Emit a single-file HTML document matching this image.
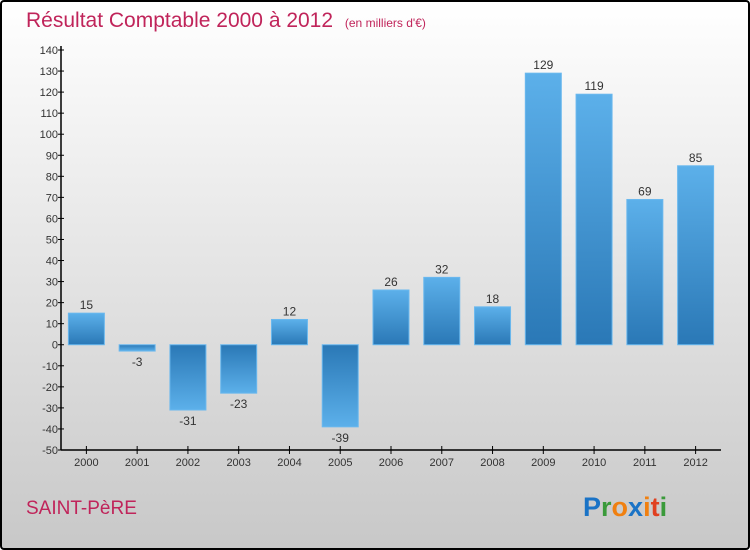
<!DOCTYPE html>
<html><head><meta charset="utf-8"><style>
html,body{margin:0;padding:0}
body{width:750px;height:550px;overflow:hidden;font-family:"Liberation Sans",sans-serif}
#wrap{position:absolute;left:0;top:0;width:746px;height:546px;border:2px solid #000;border-radius:4px;background:linear-gradient(#fff,#c8c8c8)}
</style></head><body>
<div id="wrap">
<svg id="chart" width="750" height="550" style="position:absolute;left:-2px;top:-2px">
<defs>
<linearGradient id="gp" x1="0" y1="0" x2="0" y2="1"><stop offset="0" stop-color="#5cb0ea"/><stop offset="1" stop-color="#2a78b6"/></linearGradient>
<linearGradient id="gn" x1="0" y1="0" x2="0" y2="1"><stop offset="0" stop-color="#2a78b6"/><stop offset="1" stop-color="#5cb0ea"/></linearGradient>
</defs>
<text x="26" y="27" font-size="21" fill="#c0245a">Résultat Comptable 2000 à 2012 <tspan font-size="12" dx="6">(en milliers d'€)</tspan></text>
<text x="26" y="514" font-size="19" fill="#c0245a">SAINT-PèRE</text>
<text x="583" y="516" font-size="27" font-weight="bold"><tspan fill="#1a73c6">P</tspan><tspan fill="#3a9a3a">r</tspan><tspan fill="#f08010">o</tspan><tspan fill="#1a73c6">x</tspan><tspan fill="#f08010">i</tspan><tspan fill="#e04020">t</tspan><tspan fill="#3a9a3a">i</tspan></text>
<g id="g"></g>
</svg>
</div>
<script>
const categories=["2000","2001","2002","2003","2004","2005","2006","2007","2008","2009","2010","2011","2012"];
const values=[15,-3,-31,-23,12,-39,26,32,18,129,119,69,85];
const yTicks=[140,130,120,110,100,90,80,70,60,50,40,30,20,10,0,-10,-20,-30,-40,-50];
const NS="http://www.w3.org/2000/svg";
const g=document.getElementById('g');
const X0=61,X1=721,Y0=50,Y1=450,VMAX=140,VMIN=-50;
const bw=(X1-X0)/categories.length;
function y(v){return Y0+(VMAX-v)*(Y1-Y0)/(VMAX-VMIN);}
function xc(i){return X0+(i+0.5)*bw;}
function mk(t,a){const e=document.createElementNS(NS,t);for(const k in a)e.setAttribute(k,a[k]);g.appendChild(e);return e;}
values.forEach((v,i)=>{
  const top=Math.min(y(v),y(0)),h=Math.abs(y(v)-y(0));
  const r=mk('rect',{x:xc(i)-18,y:top,width:36,height:h,fill:v>=0?'url(#gp)':'url(#gn)',stroke:'#6ab8ee','stroke-width':1});
  
  
  const t=mk('text',{x:xc(i),y:v>=0?y(v)-4:y(v)+15,'font-size':12,'text-anchor':'middle',fill:'#333'});
  t.textContent=v;
  
  
  const tk=mk('line',{x1:xc(i),x2:xc(i),y1:Y1-4,y2:Y1+4,stroke:'#000'});
  
  
  const xl=mk('text',{x:xc(i),y:Y1+16,'font-size':11,'text-anchor':'middle',fill:'#333'});
  xl.textContent=categories[i];
  
  
});
yTicks.forEach(v=>{
  const l=mk('line',{x1:X0-3,x2:X0+3,y1:y(v),y2:y(v),stroke:'#000'});
  
  
  const t=mk('text',{x:X0-3,y:y(v)+4,'font-size':11,'text-anchor':'end',fill:'#333'});
  t.textContent=v;
  
  
});
const ya=mk('line',{x1:X0,x2:X0,y1:Y0-4,y2:Y1,stroke:'#000','stroke-width':1.5});


const xa=mk('line',{x1:X0,x2:X1,y1:Y1,y2:Y1,stroke:'#000','stroke-width':1.5});


</script>
</body></html>
